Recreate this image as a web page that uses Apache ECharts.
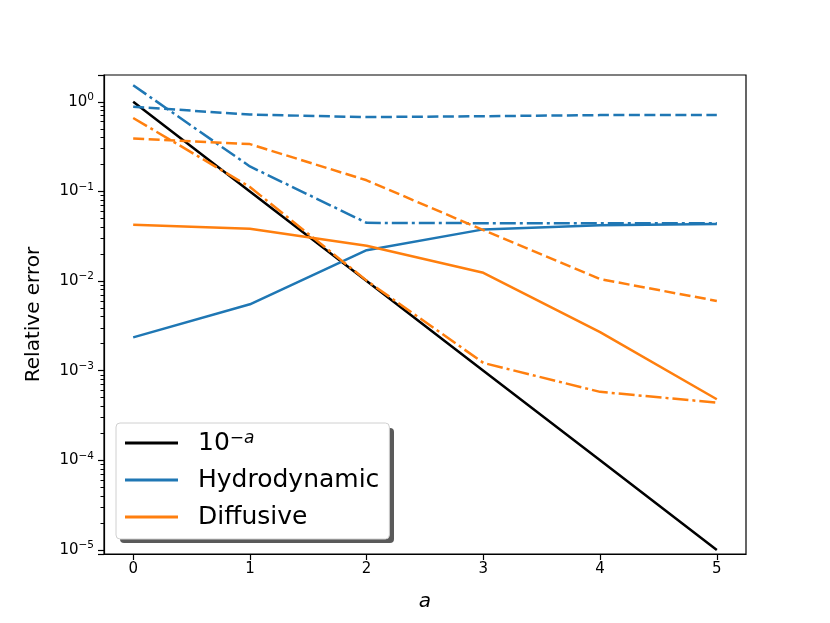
<!DOCTYPE html>
<html>
<head>
<meta charset="utf-8">
<script src="https://cdn.jsdelivr.net/npm/echarts@6/dist/echarts.min.js"></script>
<style>
  html, body { margin: 0; padding: 0; background: #fff; }
  #chart { width: 830px; height: 623px; }
</style>
</head>
<body>
<div id="chart"></div>
<script>
// x positions (a)
var aValues = [0, 1, 2, 3, 4, 5];
// reference line 10^-a
var refLine = [1, 0.1, 0.01, 0.001, 0.0001, 0.00001];
// Hydrodynamic
var hydroSolid = [0.00235, 0.0055, 0.0221, 0.0377, 0.042, 0.0432];
var hydroDashed = [0.88, 0.72, 0.675, 0.69, 0.71, 0.71];
var hydroDashDot = [1.53, 0.19, 0.0446, 0.0442, 0.044, 0.044];
// Diffusive
var diffSolid = [0.0424, 0.0383, 0.0247, 0.01235, 0.00269, 0.00048];
var diffDashed = [0.39, 0.337, 0.133, 0.037, 0.0105, 0.006];
var diffDashDot = [0.66, 0.112, 0.0101, 0.00122, 0.00058, 0.00044];
// tick values
var xTicks = [0, 1, 2, 3, 4, 5];
var yTicks = [1e-5, 1e-4, 1e-3, 1e-2, 1e-1, 1];

var Y_MIN = 9e-6, Y_MAX = 1.99;

var BLUE = '#1f77b4', ORANGE = '#ff7f0e', FONT = 'DejaVu Sans';
var DASH = [11, 4.5], DASHDOT = [16, 4, 3, 4];

function pairs(ys) {
    return aValues.map(function (x, i) { return [x, ys[i]]; });
}

function line(name, ys, color, type) {
    return {
        name: name,
        type: 'line',
        data: pairs(ys),
        symbol: 'none',
        showSymbol: false,
        itemStyle: { color: color },
        lineStyle: { color: color, width: 2.5, type: type },
        emphasis: { disabled: true }
    };
}

var chart = echarts.init(document.getElementById('chart'), null, { renderer: 'canvas' });

var option = {
    animation: false,
    textStyle: { fontFamily: FONT },
    grid: {
        left: 104, right: 84, top: 75, bottom: 69,
        show: true, borderColor: '#000', borderWidth: 1.2, backgroundColor: 'transparent'
    },
    //图例阴影
    graphic: [{
        type: 'rect',
        z: 3,
        silent: true,
        shape: { x: 120, y: 428, width: 274, height: 115, r: 4 },
        style: { fill: '#5a5a5a' }
    }],
    xAxis: {
        type: 'value',
        min: -0.25,
        max: 5.25,
        name: 'a',
        nameLocation: 'middle',
        nameGap: 38,
        nameTextStyle: { fontFamily: FONT, fontSize: 20, fontStyle: 'italic', color: '#000' },
        axisLine: { onZero: false, lineStyle: { color: '#000', width: 1.2 } },
        axisTick: { customValues: xTicks, length: 6, lineStyle: { color: '#000', width: 1.2 } },
        axisLabel: { customValues: xTicks, fontSize: 15, color: '#000', margin: 8, fontFamily: FONT },
        splitLine: { show: false }
    },
    yAxis: {
        type: 'log',
        min: Y_MIN,
        max: Y_MAX,
        name: 'Relative error',
        nameLocation: 'middle',
        nameGap: 60,
        nameTextStyle: { fontFamily: FONT, fontSize: 20, color: '#000' },
        axisLine: { show: true, onZero: false, lineStyle: { color: '#000', width: 1.2 } },
        axisTick: { length: 6, lineStyle: { color: '#000', width: 1.2 } },
        //次刻度 2..9 x 10^k
        minorTick: { show: true, splitNumber: 9, length: 3.5, lineStyle: { color: '#000', width: 1 } },
        axisLabel: {
            customValues: yTicks,
            margin: 10,
            color: '#000',
            fontFamily: FONT,
            fontSize: 15,
            formatter: function (v) {
                var p = Math.round(Math.log10(v));
                return '10{sup|' + (p < 0 ? '\u2212' + (-p) : p) + '}';
            },
            rich: {
                sup: { fontSize: 10.5, verticalAlign: 'top', padding: [0, 0, 9, 0], fontFamily: FONT, color: '#000' }
            }
        },
        splitLine: { show: false }
    },
    legend: {
        orient: 'vertical',
        left: 116,
        top: 423,
        z: 5,
        data: ['10^-a', 'Hydrodynamic', 'Diffusive'],
        icon: 'rect',
        itemWidth: 53,
        itemHeight: 3,
        itemGap: 11,
        padding: [7, 10, 9, 9],
        backgroundColor: '#fff',
        borderColor: '#d0d0d0',
        borderWidth: 1,
        borderRadius: 4,
        selectedMode: false,
        formatter: function (name) {
            if (name === '10^-a') {
                return '10{sup|\u2212a}';
            }
            return name;
        },
        textStyle: {
            fontFamily: FONT,
            fontSize: 25,
            color: '#000',
            lineHeight: 26,
            padding: [0, 0, 0, 15],
            rich: {
                sup: { fontSize: 17, fontStyle: 'italic', verticalAlign: 'top', padding: [0, 0, 12, 0], fontFamily: FONT, color: '#000' }
            }
        }
    },
    series: [
        line('10^-a', refLine, '#000', 'solid'),
        line('Hydrodynamic', hydroSolid, BLUE, 'solid'),
        line('Diffusive', diffSolid, ORANGE, 'solid'),
        line('Hydrodynamic dashed', hydroDashed, BLUE, DASH),
        line('Hydrodynamic dashdot', hydroDashDot, BLUE, DASHDOT),
        line('Diffusive dashed', diffDashed, ORANGE, DASH),
        line('Diffusive dashdot', diffDashDot, ORANGE, DASHDOT)
    ]
};

chart.setOption(option);
</script>
</body>
</html>
